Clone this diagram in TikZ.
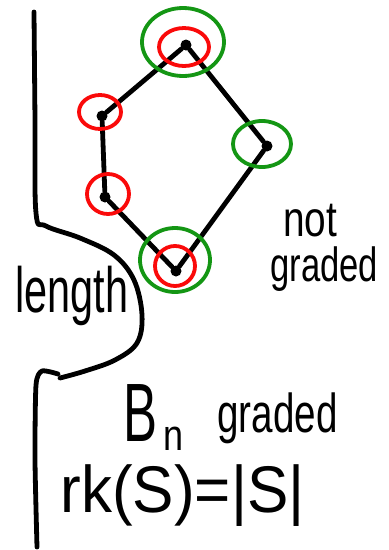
\documentclass[tikz,border=0pt]{standalone}
\usepackage{fontspec}
\setmainfont{Liberation Sans}
\definecolor{penred}{RGB}{250,10,10}
\definecolor{pengreen}{RGB}{20,150,20}
\begin{document}
\begin{tikzpicture}[x=1pt,y=-1pt,
  ink/.style={line width=4.8pt,line cap=round,line join=round},
  edge/.style={ink},
  dot/.style={circle,fill=black,inner sep=0pt,minimum size=11pt},
  redring/.style={draw=penred,line width=3.8pt},
  greenring/.style={draw=pengreen,line width=3.8pt},
  hand/.style={anchor=base west,inner sep=0pt,font=\fontsize{20}{20}\selectfont}]
\useasboundingbox (0,0) rectangle (389,550);
% poset
\node[dot] (top) at (186,45) {};
\node[dot] (lu) at (102,116) {};
\node[dot] (ll) at (105,197) {};
\node[dot] (r) at (267,146) {};
\node[dot] (bot) at (176,271) {};
\draw[edge] (top) -- (lu);
\draw[edge] (lu) -- (ll);
\draw[edge] (ll) -- (bot);
\draw[edge] (bot) -- (r);
\draw[edge] (r) -- (top);
% rings
\draw[greenring] (183,42) ellipse [x radius=41,y radius=34];
\draw[redring] (184,47) ellipse [x radius=25,y radius=19];
\draw[redring] (100,112) ellipse [x radius=21,y radius=17];
\draw[greenring] (262,144) ellipse [x radius=29,y radius=23];
\draw[redring] (108,194) ellipse [x radius=21,y radius=20];
\draw[greenring] (175,260) ellipse [x radius=35,y radius=32];
\draw[redring] (175,266) ellipse [x radius=20,y radius=20];
% left boundary
\draw[ink] plot[smooth,tension=0.6] coordinates {(34,12) (35,120) (36,213) (46,226) (80,238) (114,255) (134,280) (142,315) (137,343) (115,360) (85,371) (60,378)};
\draw[ink] plot[smooth,tension=0.4] coordinates {(58,374) (42,371) (36,385) (35,460) (37,547)};
% texts
\node[hand,xscale=1.94,yscale=2.5] (not) at (283,236) {not};
\node[hand,xscale=1.73,yscale=2.4] (g1) at (270,281) {graded};
\node[hand,xscale=2.07,yscale=3.2] (len) at (15,312) {length};
\node[hand,xscale=2.55,yscale=4.14] (B) at (123,441) {B};
\node[hand,xscale=1.8,yscale=2.18] (n) at (163,450) {n};
\node[hand,xscale=1.93,yscale=2.74] (g2) at (217,432) {graded};
\node[hand,xscale=3.1,yscale=3.3] (rk) at (60,512) {rk(S)=|S|};
\end{tikzpicture}
\end{document}
